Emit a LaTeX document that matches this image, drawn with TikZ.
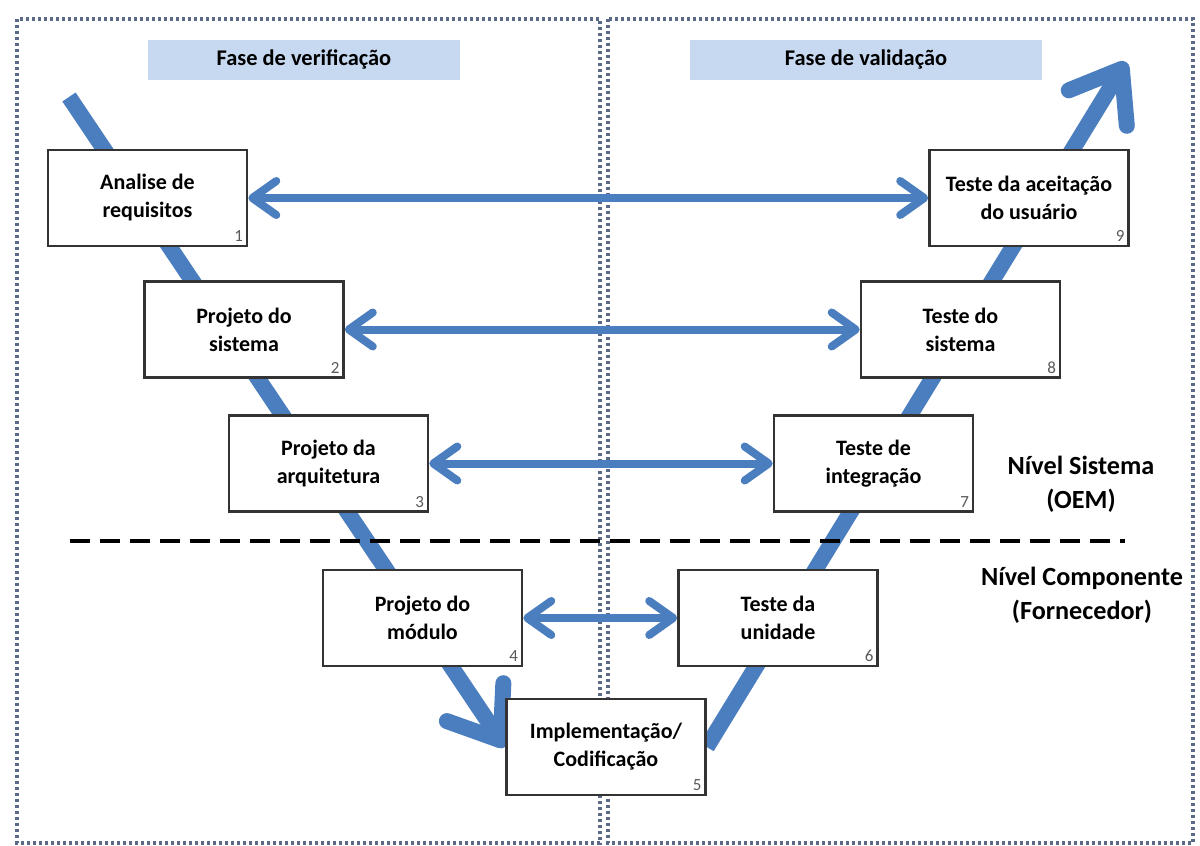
\documentclass[tikz,border=0pt]{standalone}
\usepackage{fontspec}
\setmainfont{Carlito}
\usetikzlibrary{arrows.meta,positioning,backgrounds}
\definecolor{vblue}{RGB}{74,126,190}
\definecolor{barblue}{RGB}{198,217,241}
\definecolor{framegray}{RGB}{90,106,135}

\tikzset{
  stage/.style={draw=black!80,line width=1.3pt,fill=white,minimum width=99.5pt,
    minimum height=48pt,align=center,inner sep=0pt,
    font=\bfseries\fontsize{11}{14}\selectfont},
  num/.style={anchor=south east,inner sep=2.5pt,text=black!65,
    font=\fontsize{8.5}{9}\selectfont},
  phase/.style={fill=barblue,minimum height=20pt,inner sep=0pt,
    font=\bfseries\fontsize{11.2}{12}\selectfont},
  vline/.style={draw=vblue,line width=8pt,
    -{Straight Barb[length=23pt,width=34pt,round]}},
  link/.style={draw=vblue,line width=4pt,
    {Straight Barb[length=12pt,width=17pt,round]}-{Straight Barb[length=12pt,width=17pt,round]}},
  level/.style={align=center,font=\bfseries\fontsize{13.1}{17}\selectfont},
  panel/.style={draw=framegray,line width=1.6pt,dash pattern=on 1.5pt off 1.5pt}
}

\begin{document}
\begin{tikzpicture}[x=0.5pt,y=-0.5pt]
\useasboundingbox (0,0) rectangle (1200,846);

% the two phases
\node[phase,minimum width=156pt] (verif) at (304,60) {Fase de verificação};
\node[phase,minimum width=176pt] (valid) at (866,60) {Fase de validação};

% left side of the V
\node[stage] (req)  at (147.5,198) {Analise de\\requisitos};
\node[stage] (sys)  at (244,329.5) {Projeto do\\sistema};
\node[stage] (arch) at (328.5,463.5) {Projeto da\\arquitetura};
\node[stage] (mod)  at (422.5,618) {Projeto do\\módulo};
\node[stage] (impl) at (606,747) {Implementação/\\Codificação};
% right side of the V
\node[stage] (unit)    at (778,618) {Teste da\\unidade};
\node[stage] (integ)   at (873.5,463.5) {Teste de\\integração};
\node[stage] (systest) at (960.5,329.5) {Teste do\\sistema};
\node[stage] (accept)  at (1029,198) {Teste da aceitação\\do usuário};

\node[num] at (req.south east) {1};
\node[num] at (sys.south east) {2};
\node[num] at (arch.south east) {3};
\node[num] at (mod.south east) {4};
\node[num] at (impl.south east) {5};
\node[num] at (unit.south east) {6};
\node[num] at (integ.south east) {7};
\node[num] at (systest.south east) {8};
\node[num] at (accept.south east) {9};

\node[level] (oem)  at (1081,484) {Nível Sistema\\(OEM)};
\node[level] (forn) at (1082,595) {Nível Componente\\(Fornecedor)};

\coordinate (vstart) at (69,97);
\coordinate (vend) at (1126,62);
\coordinate (cutl) at (70,541);
\coordinate (cutr) at (1125,541);

\begin{scope}[on background layer]
  \draw[panel] (17,19) rectangle (600,843);
  \draw[panel] (608,19) rectangle (1193,843);
  \draw[vline] (vstart) -- (impl.west);
  \draw[vline] (impl.east) -- (vend);
  \draw[line width=1.6pt,dash pattern=on 10pt off 5pt] (cutl) -- (cutr);
\end{scope}

% verification <-> validation
\draw[link] (req) -- (accept);
\draw[link] (sys) -- (systest);
\draw[link] (arch) -- (integ);
\draw[link] (mod) -- (unit);
\end{tikzpicture}
\end{document}
